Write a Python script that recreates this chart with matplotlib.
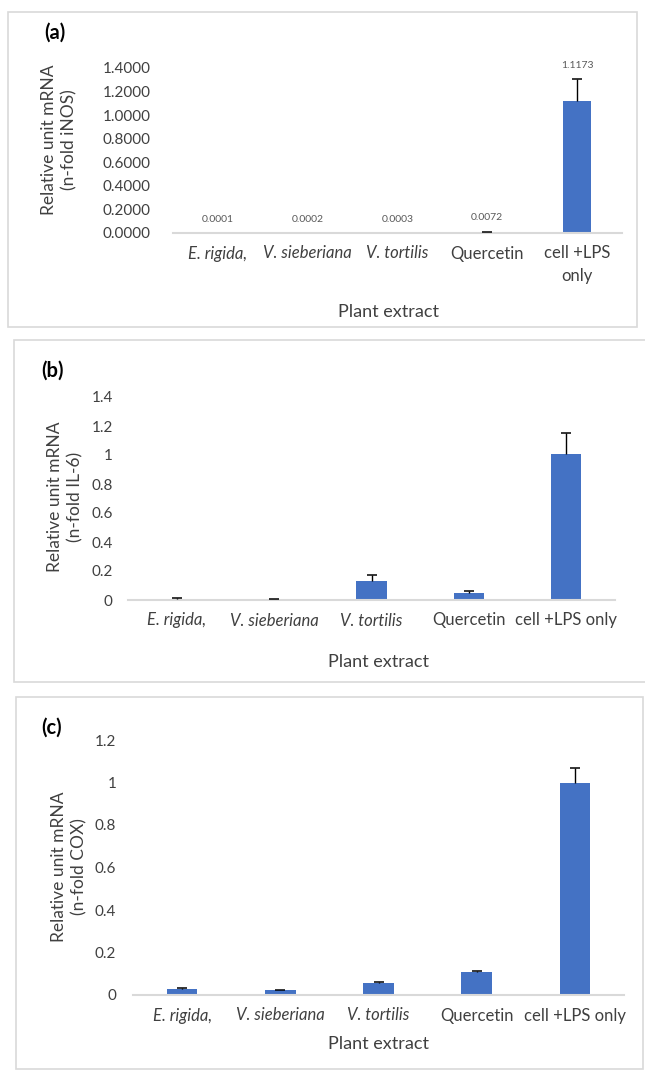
#!/usr/bin/python3
# -*- coding: utf-8 -*-

import matplotlib
matplotlib.use('Agg')
import matplotlib.pyplot as plt
from matplotlib.patches import Rectangle
import numpy as np

plt.rcParams['font.family'] = ['Lato', 'DejaVu Sans']

extracts = ['E. rigida,', 'V. sieberiana', 'V. tortilis', 'Quercetin', 'cell +LPS only']
italic = [True, True, True, False, False]

inos = [0.0001, 0.0002, 0.0003, 0.0072, 1.1173]
inos_err = [0.0, 0.0, 0.0, 0.003, 0.19]
inos_labels = ['0.0001', '0.0002', '0.0003', '0.0072', '1.1173']

il6 = [0.010, 0.005, 0.13, 0.05, 1.01]
il6_err = [0.003, 0.002, 0.04, 0.015, 0.14]

cox = [0.027, 0.022, 0.055, 0.107, 1.0]
cox_err = [0.008, 0.003, 0.005, 0.008, 0.068]

W, H = 645, 1073
BLUE = '#4472C4'
GREY = '#D9D9D9'
TXT = '#404040'


def px_axes(fig, left, top, right, bottom):
    return fig.add_axes([left / W, 1 - bottom / H, (right - left) / W, (bottom - top) / H])


def px_text(fig, x, y, s, **kw):
    fig.text(x / W, 1 - y / H, s, **kw)


def box(fig, left, top, right, bottom):
    fig.patches.append(Rectangle((left / W, 1 - bottom / H), (right - left) / W,
                                 (bottom - top) / H, transform=fig.transFigure,
                                 fill=False, ec=GREY, lw=1.2))


def bar_panel(ax, vals, errs, ymax, ticks, fmt, ypad, labels):
    x = np.arange(len(vals))
    vals = np.array(vals)
    errs = np.array(errs)
    ax.bar(x, vals, width=0.31, color=BLUE, zorder=2)
    # plus-only error bars, cap on top only
    m = errs > 0
    ax.vlines(x[m], vals[m], vals[m] + errs[m], color='black', lw=1, zorder=3)
    ax.scatter(x[m], vals[m] + errs[m], marker='_', s=60, color='black', lw=1.1, zorder=3)
    ax.set_xlim(-0.5, len(vals) - 0.5)
    ax.set_ylim(0, ymax)
    ax.set_yticks(ticks)
    ax.set_yticklabels([fmt.format(t) for t in ticks])
    ax.set_xticks(x)
    ax.set_xticklabels(labels)
    for lab, it in zip(ax.get_xticklabels(), italic):
        if it:
            lab.set_style('italic')
    for s in ['top', 'right', 'left']:
        ax.spines[s].set_visible(False)
    ax.spines['bottom'].set_color(GREY)
    ax.spines['bottom'].set_linewidth(1.5)
    ax.tick_params(axis='y', length=0, pad=ypad, labelsize=11, labelcolor=TXT)
    ax.tick_params(axis='x', length=0, pad=9, labelsize=12, labelcolor=TXT)
    ax.patch.set_alpha(0)


def main():
    fig = plt.figure(figsize=(W / 100, H / 100), dpi=100)

    box(fig, 8, 12, 637, 327)
    box(fig, 14, 340, 646, 682)
    box(fig, 16, 697, 643, 1069)

    # (a) iNOS
    labels_a = extracts[:4] + ['cell +LPS\nonly']
    ax = px_axes(fig, 173, 68, 622, 233)
    bar_panel(ax, inos, inos_err, 1.4, np.arange(0, 1.41, 0.2), '{:.4f}', 16, labels_a)
    for lab in ax.get_xticklabels():
        lab.set_linespacing(1.5)
    for i, (v, e, s) in enumerate(zip(inos, inos_err, inos_labels)):
        ax.annotate(s, (i, v + e), xytext=(0, 10), textcoords='offset points',
                    ha='center', va='center', fontsize=7.5, color='#595959')
    px_text(fig, 44, 33, '(a)', fontsize=14.5, fontweight='bold', va='center')
    px_text(fig, 59, 140, 'Relative unit mRNA\n(n-fold iNOS)', rotation=90,
            ha='center', va='center', fontsize=12.5, color=TXT, linespacing=1.3)
    px_text(fig, 389, 312, 'Plant extract', ha='center', va='center', fontsize=13, color=TXT)

    # (b) IL-6
    ax = px_axes(fig, 128, 397, 615, 600)
    bar_panel(ax, il6, il6_err, 1.4, np.arange(0, 1.41, 0.2), '{:g}', 11, extracts)
    ax.set_yticklabels(['0', '0.2', '0.4', '0.6', '0.8', '1', '1.2', '1.4'])
    px_text(fig, 41, 371, '(b)', fontsize=14.5, fontweight='bold', va='center')
    px_text(fig, 65, 497, 'Relative unit mRNA\n(n-fold IL-6)', rotation=90,
            ha='center', va='center', fontsize=12.5, color=TXT, linespacing=1.3)
    px_text(fig, 378, 662, 'Plant extract', ha='center', va='center', fontsize=13, color=TXT)

    # (c) COX
    ax = px_axes(fig, 133, 740, 624, 995)
    bar_panel(ax, cox, cox_err, 1.2, np.arange(0, 1.21, 0.2), '{:g}', 12, extracts)
    ax.set_yticklabels(['0', '0.2', '0.4', '0.6', '0.8', '1', '1.2'])
    px_text(fig, 41, 728, '(c)', fontsize=14.5, fontweight='bold', va='center')
    px_text(fig, 69, 867, 'Relative unit mRNA\n(n-fold COX)', rotation=90,
            ha='center', va='center', fontsize=12.5, color=TXT, linespacing=1.3)
    px_text(fig, 378, 1044, 'Plant extract', ha='center', va='center', fontsize=13, color=TXT)

    fig.savefig('out.png', dpi=100, facecolor='white')


if __name__ == '__main__':
    main()
